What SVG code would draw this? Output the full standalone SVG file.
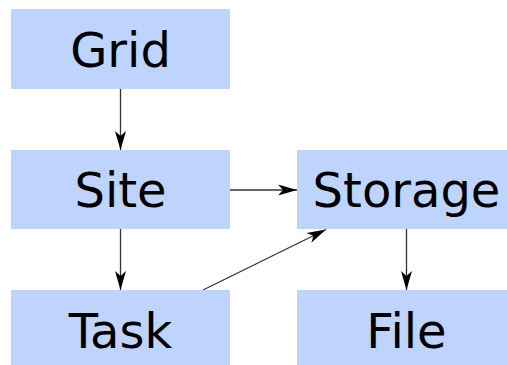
<svg xmlns="http://www.w3.org/2000/svg" width="507" height="365" viewBox="0 0 507 365">
<style>
.box{fill:#bfd4fd;}
.lbl{font-family:"DejaVu Sans",sans-serif;font-size:48px;fill:#000;text-anchor:middle;}
.edge{stroke:#333;stroke-width:1.3;fill:none;marker-end:url(#ah);}
</style>
<defs>
<marker id="ah" markerUnits="userSpaceOnUse" markerWidth="22" markerHeight="14" refX="20" refY="7" orient="auto" viewBox="0 0 22 14">
<path d="M20,7 L1,1.5 L6,7 L1,12.5 Z" fill="#000"/>
</marker>
</defs>
<rect width="507" height="365" fill="#fff"/>
<g id="edges">
<line class="edge" x1="120.5" y1="89" x2="120.5" y2="150"/>
<line class="edge" x1="120.5" y1="229" x2="120.5" y2="290"/>
<line class="edge" x1="230" y1="190" x2="297" y2="190"/>
<line class="edge" x1="203" y1="290" x2="326" y2="229.5"/>
<line class="edge" x1="406.5" y1="229" x2="406.5" y2="290"/>
</g>
<g id="grid"><rect class="box" x="11" y="9" width="219" height="80"/><text class="lbl" x="120.5" y="66.5">Grid</text></g>
<g id="site"><rect class="box" x="11" y="150" width="219" height="79"/><text class="lbl" x="120.5" y="207">Site</text></g>
<g id="storage"><rect class="box" x="297" y="150" width="219" height="79"/><text class="lbl" x="406.5" y="207">Storage</text></g>
<g id="task"><rect class="box" x="11" y="290" width="219" height="80"/><text class="lbl" x="120.5" y="347.5">Task</text></g>
<g id="file"><rect class="box" x="297" y="290" width="219" height="80"/><text class="lbl" x="406.5" y="347.5">File</text></g>
</svg>
